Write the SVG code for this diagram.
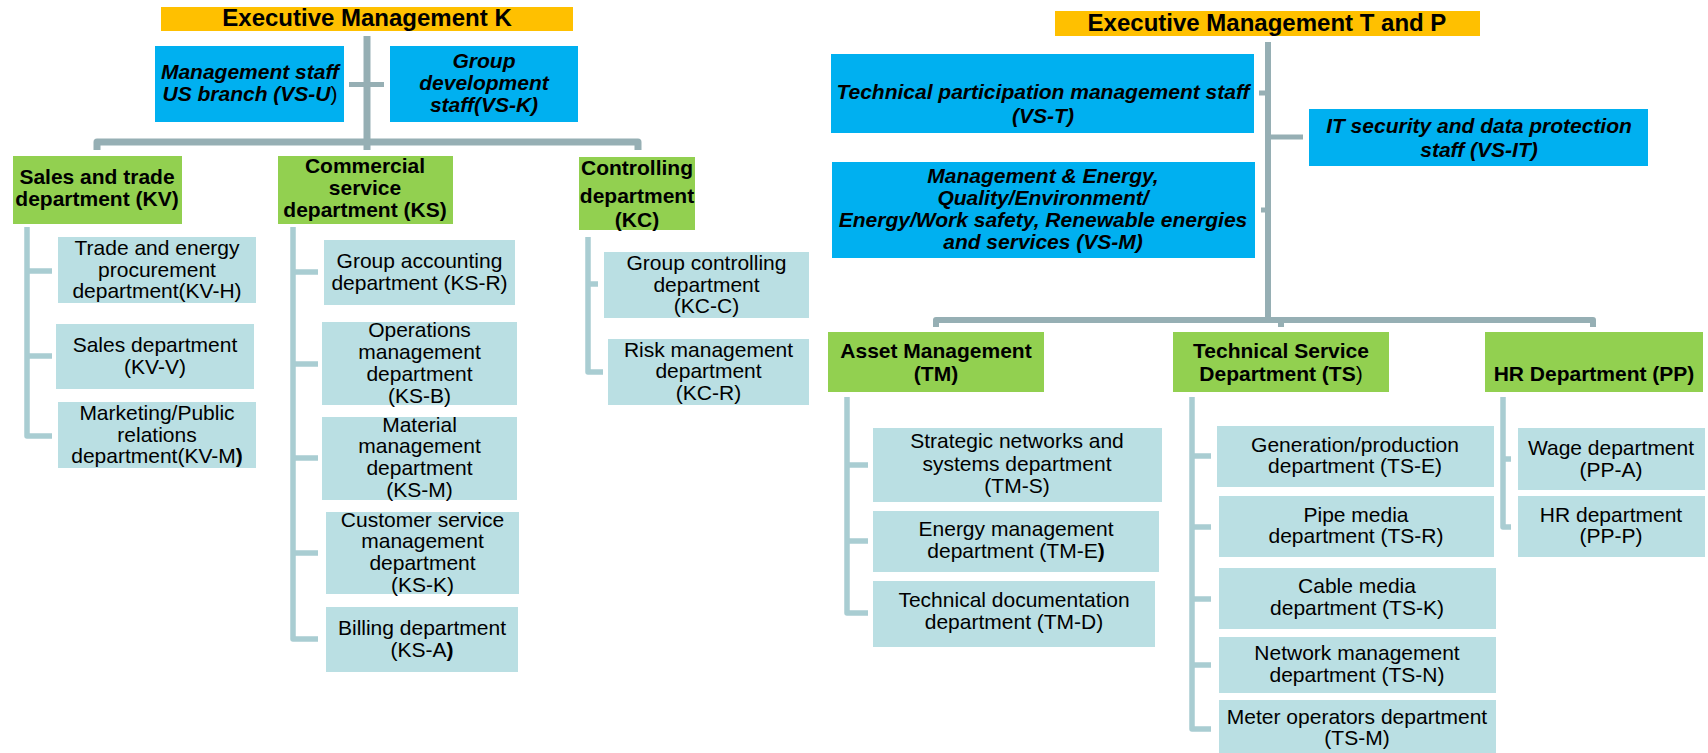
<svg xmlns="http://www.w3.org/2000/svg" width="1708" height="753" viewBox="0 0 1708 753">
  <style>
    .exec { fill: #FFC000; }
    .staff { fill: #00B0F0; }
    .dept { fill: #92D050; }
    .unit { fill: #BADFE3; }
    text { font-family: "Liberation Sans", Arial, sans-serif; fill: #000; text-anchor: middle; }
    .t-exec { font-size: 24px; font-weight: bold; }
    .t-staff { font-size: 21px; font-weight: bold; font-style: italic; }
    .t-dept { font-size: 21px; font-weight: bold; }
    .t-unit { font-size: 21px; }
    .n { font-weight: normal; font-style: normal; }
    .b { font-weight: bold; }
    .trunk { fill: none; stroke: #96AFB4; stroke-width: 7; stroke-linejoin: round; }
    .stub { fill: none; stroke: #96AFB4; stroke-width: 5; }
    .branch { fill: none; stroke: #A9CDD2; stroke-width: 5.5; stroke-linejoin: round; }
  </style>

  <rect width="1708" height="753" fill="#FFFFFF"/>

  <!-- connectors -->
  <g id="connectors">
    <!-- left hierarchy -->
    <path class="trunk" d="M367,36 V150"/>
    <path class="stub" d="M349,84.5 H384"/>
    <path class="trunk" d="M97,150 V142 H638 V150"/>
    <path class="branch" d="M27,227 V436 H52 M27,271 H52 M27,356 H52"/>
    <path class="branch" d="M293,227 V639 H318 M293,272 H318 M293,364 H318 M293,458 H318 M293,553 H318"/>
    <path class="branch" d="M588,237 V372 H603 M588,284 H598"/>
    <!-- right hierarchy -->
    <path class="trunk" style="stroke-width:6" d="M1268,42 V323"/>
    <path class="stub" d="M1259,93 H1268 M1261,210 H1268 M1268,137 H1303"/>
    <path class="trunk" style="stroke-width:6" d="M936,327 V320 H1593 V327 M1281,320 V327"/>
    <path class="branch" d="M847,397 V613 H868 M847,465 H868 M847,541 H868"/>
    <path class="branch" d="M1192,397 V729 H1211 M1192,456 H1211 M1192,527 H1211 M1192,599 H1211 M1192,665 H1211"/>
    <path class="branch" d="M1503,397 V527 H1511 M1503,459 H1511"/>
  </g>

  <!-- executive management K -->
  <g id="exec-k">
    <rect class="exec" x="161" y="7" width="412" height="24"/>
    <text class="t-exec" x="367" y="26">Executive Management K</text>
  </g>
  <g id="vs-u">
    <rect class="staff" x="155" y="46" width="189" height="76"/>
    <text class="t-staff" x="250" y="79">Management staff</text>
    <text class="t-staff" x="250" y="101">US branch (VS-U<tspan class="n">)</tspan></text>
  </g>
  <g id="vs-k">
    <rect class="staff" x="390" y="46" width="188" height="76"/>
    <text class="t-staff" x="484" y="68">Group</text>
    <text class="t-staff" x="484" y="90">development</text>
    <text class="t-staff" x="484" y="112">staff(VS-K)</text>
  </g>

  <g id="kv">
    <rect class="dept" x="13" y="156" width="169" height="68"/>
    <text class="t-dept" x="97" y="184">Sales and trade</text>
    <text class="t-dept" x="97" y="206">department (KV)</text>
  </g>
  <g id="ks">
    <rect class="dept" x="278" y="156" width="175" height="68"/>
    <text class="t-dept" x="365" y="173">Commercial</text>
    <text class="t-dept" x="365" y="195">service</text>
    <text class="t-dept" x="365" y="217">department (KS)</text>
  </g>
  <g id="kc">
    <rect class="dept" x="579" y="157" width="116" height="73"/>
    <text class="t-dept" x="637" y="175">Controlling</text>
    <text class="t-dept" x="637" y="203">department</text>
    <text class="t-dept" x="637" y="227">(KC)</text>
  </g>

  <g id="kv-h">
    <rect class="unit" x="58" y="237" width="198" height="66"/>
    <text class="t-unit" x="157" y="255">Trade and energy</text>
    <text class="t-unit" x="157" y="277">procurement</text>
    <text class="t-unit" x="157" y="298">department(KV-H)</text>
  </g>
  <g id="kv-v">
    <rect class="unit" x="56" y="324" width="198" height="65"/>
    <text class="t-unit" x="155" y="352">Sales department</text>
    <text class="t-unit" x="155" y="374">(KV-V)</text>
  </g>
  <g id="kv-m">
    <rect class="unit" x="58" y="402" width="198" height="66"/>
    <text class="t-unit" x="157" y="420">Marketing/Public</text>
    <text class="t-unit" x="157" y="442">relations</text>
    <text class="t-unit" x="157" y="463">department(KV-M<tspan class="b">)</tspan></text>
  </g>

  <g id="ks-r">
    <rect class="unit" x="324" y="240" width="191" height="65"/>
    <text class="t-unit" x="419.5" y="268">Group accounting</text>
    <text class="t-unit" x="419.5" y="290">department (KS-R)</text>
  </g>
  <g id="ks-b">
    <rect class="unit" x="322" y="322" width="195" height="83"/>
    <text class="t-unit" x="419.5" y="337">Operations</text>
    <text class="t-unit" x="419.5" y="359">management</text>
    <text class="t-unit" x="419.5" y="381">department</text>
    <text class="t-unit" x="419.5" y="403">(KS-B)</text>
  </g>
  <g id="ks-m">
    <rect class="unit" x="322" y="417" width="195" height="83"/>
    <text class="t-unit" x="419.5" y="432">Material</text>
    <text class="t-unit" x="419.5" y="453">management</text>
    <text class="t-unit" x="419.5" y="475">department</text>
    <text class="t-unit" x="419.5" y="497">(KS-M)</text>
  </g>
  <g id="ks-k">
    <rect class="unit" x="326" y="512" width="193" height="82"/>
    <text class="t-unit" x="422.5" y="527">Customer service</text>
    <text class="t-unit" x="422.5" y="548">management</text>
    <text class="t-unit" x="422.5" y="570">department</text>
    <text class="t-unit" x="422.5" y="592">(KS-K)</text>
  </g>
  <g id="ks-a">
    <rect class="unit" x="326" y="607" width="192" height="65"/>
    <text class="t-unit" x="422" y="635">Billing department</text>
    <text class="t-unit" x="422" y="657">(KS-A<tspan class="b">)</tspan></text>
  </g>

  <g id="kc-c">
    <rect class="unit" x="604" y="252" width="205" height="66"/>
    <text class="t-unit" x="706.5" y="270">Group controlling</text>
    <text class="t-unit" x="706.5" y="292">department</text>
    <text class="t-unit" x="706.5" y="313">(KC-C)</text>
  </g>
  <g id="kc-r">
    <rect class="unit" x="608" y="339" width="201" height="66"/>
    <text class="t-unit" x="708.5" y="357">Risk management</text>
    <text class="t-unit" x="708.5" y="378">department</text>
    <text class="t-unit" x="708.5" y="400">(KC-R)</text>
  </g>

  <!-- executive management T and P -->
  <g id="exec-tp">
    <rect class="exec" x="1055" y="11" width="425" height="25"/>
    <text class="t-exec" x="1267" y="31">Executive Management T and P</text>
  </g>
  <g id="vs-t">
    <rect class="staff" x="831" y="54" width="423" height="79"/>
    <text class="t-staff" x="1043" y="99">Technical participation management staff</text>
    <text class="t-staff" x="1043" y="123">(VS-T)</text>
  </g>
  <g id="vs-it">
    <rect class="staff" x="1309" y="109" width="339" height="57"/>
    <text class="t-staff" x="1479" y="133">IT security and data protection</text>
    <text class="t-staff" x="1479" y="157">staff (VS-IT)</text>
  </g>
  <g id="vs-m">
    <rect class="staff" x="832" y="162" width="423" height="96"/>
    <text class="t-staff" x="1043" y="183">Management &amp; Energy,</text>
    <text class="t-staff" x="1043" y="205">Quality/Environment/</text>
    <text class="t-staff" x="1043" y="227">Energy/Work safety, Renewable energies</text>
    <text class="t-staff" x="1043" y="249">and services (VS-M)</text>
  </g>

  <g id="tm">
    <rect class="dept" x="828" y="332" width="216" height="60"/>
    <text class="t-dept" x="936" y="358">Asset Management</text>
    <text class="t-dept" x="936" y="381">(TM)</text>
  </g>
  <g id="ts">
    <rect class="dept" x="1173" y="332" width="216" height="60"/>
    <text class="t-dept" x="1281" y="358">Technical Service</text>
    <text class="t-dept" x="1281" y="381">Department (TS<tspan class="n">)</tspan></text>
  </g>
  <g id="pp">
    <rect class="dept" x="1485" y="332" width="218" height="60"/>
    <text class="t-dept" x="1594" y="381">HR Department (PP)</text>
  </g>

  <g id="tm-s">
    <rect class="unit" x="873" y="428" width="289" height="74"/>
    <text class="t-unit" x="1017" y="448">Strategic networks and</text>
    <text class="t-unit" x="1017" y="471">systems department</text>
    <text class="t-unit" x="1017" y="493">(TM-S)</text>
  </g>
  <g id="tm-e">
    <rect class="unit" x="873" y="511" width="286" height="61"/>
    <text class="t-unit" x="1016" y="536">Energy management</text>
    <text class="t-unit" x="1016" y="558">department (TM-E<tspan class="b">)</tspan></text>
  </g>
  <g id="tm-d">
    <rect class="unit" x="873" y="581" width="282" height="66"/>
    <text class="t-unit" x="1014" y="607">Technical documentation</text>
    <text class="t-unit" x="1014" y="629">department (TM-D)</text>
  </g>

  <g id="ts-e">
    <rect class="unit" x="1217" y="426" width="277" height="61"/>
    <text class="t-unit" x="1355" y="452">Generation/production</text>
    <text class="t-unit" x="1355" y="473">department (TS-E)</text>
  </g>
  <g id="ts-r">
    <rect class="unit" x="1219" y="496" width="275" height="61"/>
    <text class="t-unit" x="1356" y="522">Pipe media</text>
    <text class="t-unit" x="1356" y="543">department (TS-R)</text>
  </g>
  <g id="ts-k">
    <rect class="unit" x="1219" y="568" width="277" height="61"/>
    <text class="t-unit" x="1357" y="593">Cable media</text>
    <text class="t-unit" x="1357" y="615">department (TS-K)</text>
  </g>
  <g id="ts-n">
    <rect class="unit" x="1219" y="637" width="277" height="56"/>
    <text class="t-unit" x="1357" y="660">Network management</text>
    <text class="t-unit" x="1357" y="682">department (TS-N)</text>
  </g>
  <g id="ts-m">
    <rect class="unit" x="1219" y="700" width="277" height="55"/>
    <text class="t-unit" x="1357" y="724">Meter operators department</text>
    <text class="t-unit" x="1357" y="745">(TS-M)</text>
  </g>

  <g id="pp-a">
    <rect class="unit" x="1518" y="428" width="187" height="62"/>
    <text class="t-unit" x="1611" y="455">Wage department</text>
    <text class="t-unit" x="1611" y="477">(PP-A)</text>
  </g>
  <g id="pp-p">
    <rect class="unit" x="1518" y="496" width="187" height="61"/>
    <text class="t-unit" x="1611" y="522">HR department</text>
    <text class="t-unit" x="1611" y="543">(PP-P)</text>
  </g>
</svg>
